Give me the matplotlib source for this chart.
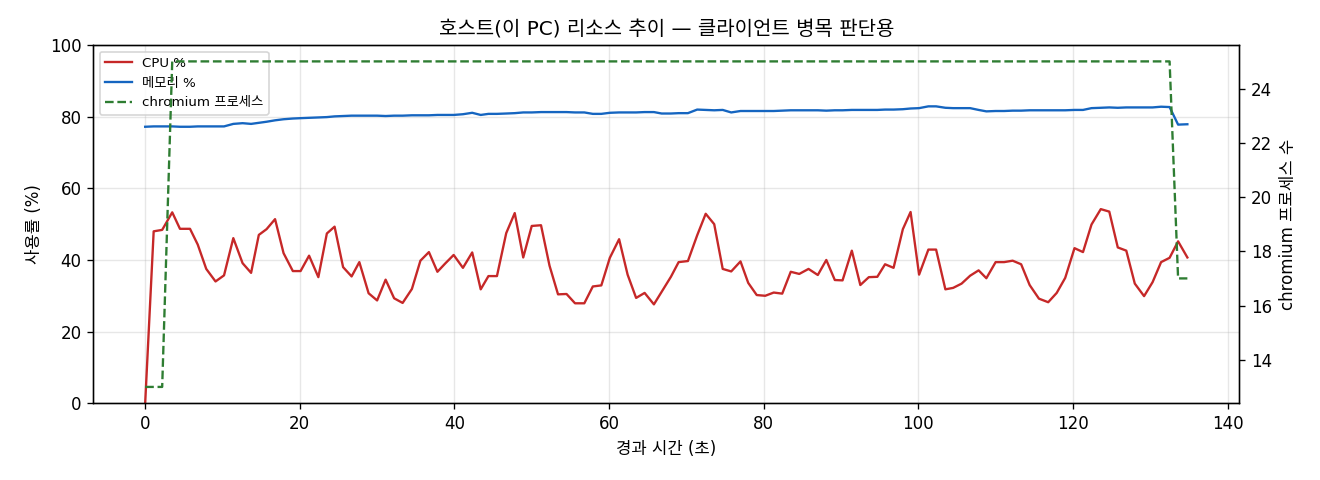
import matplotlib
matplotlib.use("Agg")
import matplotlib.pyplot as plt

plt.rcParams['font.family'] = ['DejaVu Sans', 'Noto Sans CJK KR']
plt.rcParams['axes.unicode_minus'] = False

# 경과 시간 (초)
elapsed = [
    0.0, 1.1, 2.2, 3.5, 4.5, 5.8, 6.8, 7.9, 9.1, 10.2,
    11.4, 12.6, 13.7, 14.7, 15.7, 16.8, 17.9, 19.1, 20.1, 21.2,
    22.4, 23.5, 24.5, 25.6, 26.7, 27.7, 28.9, 30.0, 31.1, 32.2,
    33.3, 34.5, 35.6, 36.7, 37.8, 38.8, 39.9, 41.1, 42.3, 43.4,
    44.4, 45.5, 46.7, 47.8, 48.9, 50.0, 51.2, 52.3, 53.4, 54.5,
    55.6, 56.8, 57.9, 59.0, 60.1, 61.3, 62.4, 63.5, 64.6, 65.8,
    66.8, 68.0, 69.0, 70.2, 71.4, 72.5, 73.6, 74.7, 75.8, 77.0,
    78.0, 79.1, 80.2, 81.3, 82.4, 83.5, 84.6, 85.8, 87.0, 88.1,
    89.2, 90.2, 91.4, 92.5, 93.6, 94.7, 95.7, 96.8, 98.0, 99.0,
    100.1, 101.3, 102.3, 103.5, 104.5, 105.6, 106.7, 107.8, 108.8, 110.0,
    111.1, 112.2, 113.3, 114.4, 115.6, 116.8, 117.9, 119.0, 120.2, 121.3,
    122.4, 123.6, 124.7, 125.8, 126.9, 128.0, 129.2, 130.3, 131.4, 132.5,
    133.6, 134.8,
]

cpu_pct = [
    0.0, 48.0, 48.4, 53.3, 48.7, 48.7, 44.3, 37.5, 34.0, 35.7,
    46.1, 39.1, 36.4, 47.0, 48.6, 51.4, 41.9, 36.9, 36.9, 41.2,
    35.2, 47.4, 49.3, 38.0, 35.4, 39.4, 30.7, 28.7, 34.5, 29.3,
    28.0, 31.9, 39.8, 42.2, 36.7, 39.0, 41.4, 37.8, 42.1, 31.8,
    35.5, 35.5, 47.5, 53.1, 40.7, 49.5, 49.7, 38.4, 30.4, 30.5,
    27.9, 27.9, 32.6, 32.9, 40.6, 45.8, 35.9, 29.4, 30.8, 27.6,
    31.1, 35.3, 39.4, 39.7, 46.9, 52.9, 50.0, 37.5, 36.8, 39.6,
    33.6, 30.2, 30.0, 30.9, 30.6, 36.7, 36.1, 37.5, 35.8, 40.0,
    34.4, 34.3, 42.6, 33.0, 35.2, 35.3, 38.8, 37.8, 48.6, 53.4,
    35.9, 42.9, 42.9, 31.8, 32.2, 33.4, 35.6, 37.1, 34.9, 39.4,
    39.4, 39.8, 38.8, 33.0, 29.2, 28.2, 30.8, 35.0, 43.3, 42.2,
    49.9, 54.2, 53.5, 43.5, 42.6, 33.4, 29.9, 33.8, 39.4, 40.6,
    45.2, 40.7,
]

mem_pct = [
    77.2, 77.3, 77.3, 77.3, 77.2, 77.2, 77.3, 77.3, 77.3, 77.3,
    78.0, 78.2, 78.0, 78.3, 78.6, 79.0, 79.3, 79.5, 79.6, 79.7,
    79.8, 79.9, 80.1, 80.2, 80.3, 80.3, 80.3, 80.3, 80.2, 80.3,
    80.3, 80.4, 80.4, 80.4, 80.5, 80.5, 80.5, 80.7, 81.1, 80.5,
    80.8, 80.8, 80.9, 81.0, 81.2, 81.2, 81.3, 81.3, 81.3, 81.3,
    81.2, 81.2, 80.8, 80.8, 81.1, 81.2, 81.2, 81.2, 81.3, 81.3,
    80.9, 80.9, 81.0, 81.0, 82.0, 81.9, 81.8, 81.9, 81.2, 81.6,
    81.6, 81.6, 81.6, 81.6, 81.7, 81.8, 81.8, 81.8, 81.8, 81.7,
    81.8, 81.8, 81.9, 81.9, 81.9, 81.9, 82.0, 82.0, 82.1, 82.3,
    82.4, 82.9, 82.9, 82.5, 82.4, 82.4, 82.4, 81.9, 81.5, 81.6,
    81.6, 81.7, 81.7, 81.8, 81.8, 81.8, 81.8, 81.8, 81.9, 81.9,
    82.4, 82.5, 82.6, 82.5, 82.6, 82.6, 82.6, 82.6, 82.8, 82.7,
    77.8, 77.9,
]

chromium_procs = [
    13, 13, 13, 25, 25, 25, 25, 25, 25, 25,
    25, 25, 25, 25, 25, 25, 25, 25, 25, 25,
    25, 25, 25, 25, 25, 25, 25, 25, 25, 25,
    25, 25, 25, 25, 25, 25, 25, 25, 25, 25,
    25, 25, 25, 25, 25, 25, 25, 25, 25, 25,
    25, 25, 25, 25, 25, 25, 25, 25, 25, 25,
    25, 25, 25, 25, 25, 25, 25, 25, 25, 25,
    25, 25, 25, 25, 25, 25, 25, 25, 25, 25,
    25, 25, 25, 25, 25, 25, 25, 25, 25, 25,
    25, 25, 25, 25, 25, 25, 25, 25, 25, 25,
    25, 25, 25, 25, 25, 25, 25, 25, 25, 25,
    25, 25, 25, 25, 25, 25, 25, 25, 25, 25,
    17, 17,
]

fig, ax1 = plt.subplots(figsize=(11, 4), dpi=120)
fig.subplots_adjust(left=0.0705, right=0.939, top=0.906, bottom=0.160)

l1, = ax1.plot(elapsed, cpu_pct, color='#c62828', lw=1.4, label='CPU %')
l2, = ax1.plot(elapsed, mem_pct, color='#1565c0', lw=1.4, label='메모리 %')
ax1.set_ylim(0, 100)
ax1.set_xlabel('경과 시간 (초)')
ax1.set_ylabel('사용률 (%)')
ax1.grid(True, alpha=0.3)

ax2 = ax1.twinx()
l3, = ax2.plot(elapsed, chromium_procs, color='#2e7d32', lw=1.4, ls='--',
               label='chromium 프로세스')
ax2.set_ylabel('chromium 프로세스 수')

ax1.legend(handles=[l1, l2, l3], loc='upper left', fontsize=8)
ax1.set_title('호스트(이 PC) 리소스 추이 — 클라이언트 병목 판단용', fontsize=12)

fig.savefig('out.png', dpi=120)
